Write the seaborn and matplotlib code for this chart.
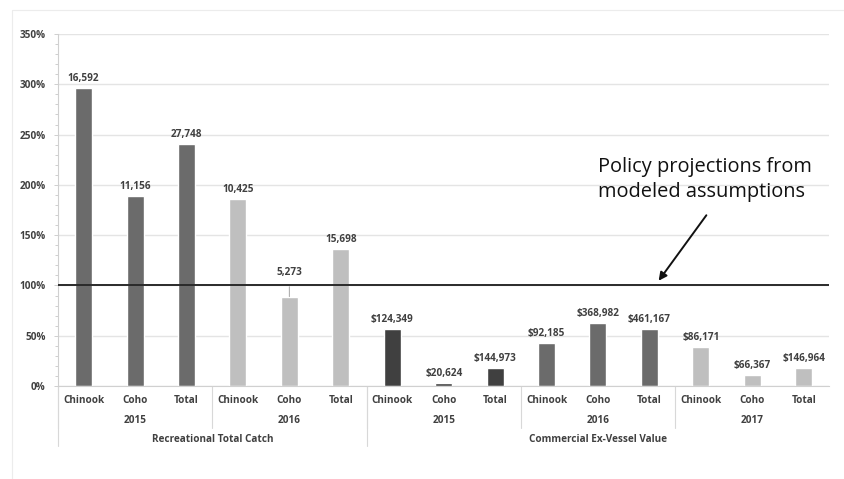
import numpy as np
import pandas as pd
import matplotlib
matplotlib.use("Agg")
import matplotlib.pyplot as plt
import seaborn as sns
from matplotlib.ticker import MultipleLocator, FuncFormatter
from matplotlib.transforms import blended_transform_factory

species = ["Chinook", "Coho", "Total"] * 5
years = ["2015"] * 3 + ["2016"] * 3 + ["2015"] * 3 + ["2016"] * 3 + ["2017"] * 3
groups = ["Recreational Total Catch"] * 6 + ["Commercial Ex-Vessel Value"] * 9
pct = [296, 189, 241, 186, 89, 136, 57, 3.3, 17.6, 42.4, 63, 57, 39, 11, 17.6]
value_labels = ["16,592", "11,156", "27,748", "10,425", "5,273", "15,698",
                "$124,349", "$20,624", "$144,973", "$92,185", "$368,982", "$461,167",
                "$86,171", "$66,367", "$146,964"]

shade = {("Recreational Total Catch", "2015"): "#6b6b6b",
         ("Recreational Total Catch", "2016"): "#bfbfbf",
         ("Commercial Ex-Vessel Value", "2015"): "#404040",
         ("Commercial Ex-Vessel Value", "2016"): "#6b6b6b",
         ("Commercial Ex-Vessel Value", "2017"): "#bfbfbf"}

df = pd.DataFrame({"species": species, "year": years, "group": groups,
                   "pct": pct, "label": value_labels})
df["key"] = [str(i) for i in range(len(df))]
colors = [shade[(g, y)] for g, y in zip(df["group"], df["year"])]

sns.set_theme(style="white")
plt.rcParams["font.family"] = ["Open Sans", "DejaVu Sans"]
txt_col = "#404040"
small = dict(fontsize=7.2, color=txt_col, fontweight="bold")

fig = plt.figure(figsize=(8.44, 4.79), dpi=100)
ax = fig.add_axes([0.0687, 0.194, 0.914, 0.735])

sns.barplot(data=df, x="key", y="pct", hue="key", palette=colors,
            legend=False, width=0.33, saturation=1, ax=ax)

ax.set_ylim(0, 350)
ax.set_xlim(-0.5, len(df) - 0.5)
ax.yaxis.set_major_locator(MultipleLocator(50))
ax.yaxis.set_minor_locator(MultipleLocator(10))
ax.yaxis.set_major_formatter(FuncFormatter(lambda v, p: f"{int(v)}%"))
ax.tick_params(axis="y", which="both", left=True, length=3, width=0.6,
               color="#c8c8c8", labelsize=7.2, labelcolor=txt_col, pad=6)
ax.tick_params(axis="y", which="minor", length=2)
for t in ax.get_yticklabels():
    t.set_fontweight("bold")
ax.grid(axis="y", color="#e4e4e4", linewidth=1)
ax.set_axisbelow(True)
for s in ["top", "right"]:
    ax.spines[s].set_visible(False)
for s in ["left", "bottom"]:
    ax.spines[s].set_color("#d0d0d0")
    ax.spines[s].set_linewidth(0.8)
ax.set_xlabel("")
ax.set_ylabel("")
ax.set_xticks([])

# reference line at 100%
ax.axhline(100, color="#2a2a2a", linewidth=1.4, zorder=5)

# value labels
for i, row in df.iterrows():
    if row["label"] == "5,273":
        ax.annotate(row["label"], xy=(i, row["pct"]), xytext=(i, row["pct"] + 24),
                    ha="center", va="center", **small,
                    arrowprops=dict(arrowstyle="-", color="#b0b0b0", lw=0.8,
                                    shrinkA=4, shrinkB=0))
    else:
        ax.text(i, row["pct"] + 4, row["label"], ha="center", va="bottom", **small)

# multi-level category axis
tr = blended_transform_factory(ax.transData, ax.transAxes)
for i, sp in enumerate(df["species"]):
    ax.text(i, -0.04, sp, transform=tr, ha="center", va="center", **small)
yr_blocks = df.groupby(["group", "year"], sort=False).apply(lambda d: d.index.tolist())
for (g, y), idx in yr_blocks.items():
    ax.text(np.mean(idx), -0.097, y, transform=tr, ha="center", va="center", **small)
    ax.plot([idx[0] - 0.5] * 2, [0, -0.119], transform=tr, color="#d8d8d8",
            lw=0.8, clip_on=False)
grp_blocks = df.groupby("group", sort=False).apply(lambda d: d.index.tolist())
for g, idx in grp_blocks.items():
    ax.text(np.mean(idx), -0.151, g, transform=tr, ha="center", va="center", **small)
    ax.plot([idx[0] - 0.5] * 2, [0, -0.171], transform=tr, color="#d8d8d8",
            lw=0.8, clip_on=False)

# callout
fig.text(0.708, 0.626, "Policy projections from\nmodeled assumptions",
         fontsize=14.4, color="#111111", ha="left", va="center", linespacing=1.35)
fig.patches.append(matplotlib.patches.FancyArrowPatch(
    (708 / 844, 1 - 213 / 479), (657 / 844, 1 - 283 / 479),
    transform=fig.transFigure, arrowstyle="-|>", mutation_scale=12,
    color="#111111", lw=1.4))

# faint chart border
fig.add_artist(plt.Line2D([12 / 844, 12 / 844], [0, 1 - 10 / 479],
                          transform=fig.transFigure, color="#ececec", lw=0.8))
fig.add_artist(plt.Line2D([12 / 844, 1], [1 - 10 / 479, 1 - 10 / 479],
                          transform=fig.transFigure, color="#ececec", lw=0.8))

fig.savefig("out.png", dpi=100)
